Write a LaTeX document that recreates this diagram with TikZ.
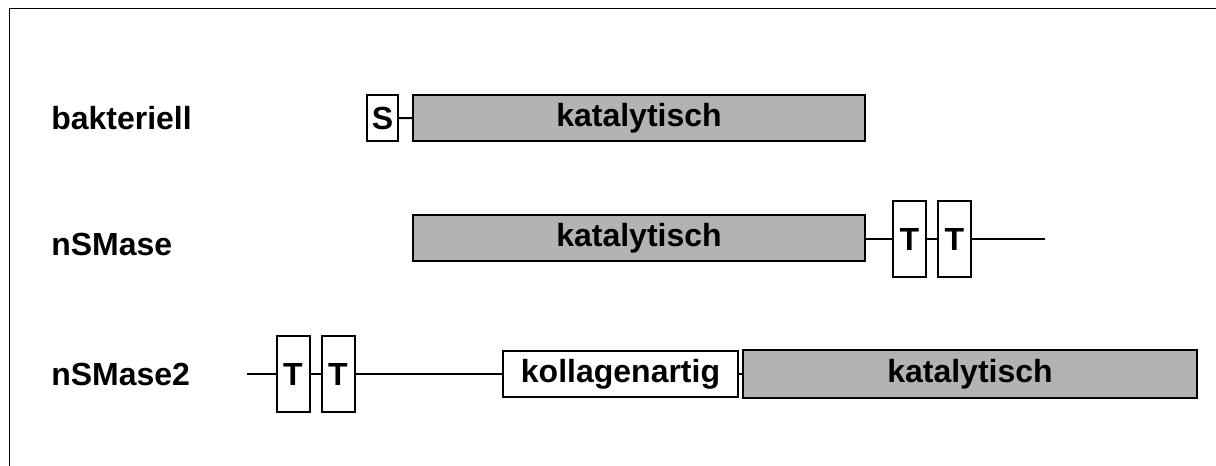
\documentclass[tikz,border=0pt]{standalone}
\usepackage{fontspec}
\setmainfont{Liberation Sans}
\usepackage{tikz}

\definecolor{katgray}{RGB}{179,179,179}

\begin{document}
\begin{tikzpicture}[x=0.75pt, y=-0.75pt,
  every node/.style={font=\fontsize{24}{27}\selectfont\bfseries},
  rowlabel/.style={anchor=west, inner sep=0pt},
  domainbox/.style={draw, line width=1.5pt, rectangle, inner sep=0pt},
  katbox/.style={domainbox, fill=katgray, minimum width=339pt, minimum height=34.5pt},
  tmbox/.style={domainbox, fill=white, minimum width=24.75pt, minimum height=57pt},
  link/.style={line width=1.5pt}]

\clip (0,0) rectangle (1216,466);
\draw[line width=1.2pt] (9.5,8.5) rectangle (1240,490);

%------------------ bakteriell ------------------%
\node[rowlabel] (lbak) at (51,118) {bakteriell};
\node[domainbox, fill=white, minimum width=23.25pt, minimum height=34.5pt] (S) at (382.5,118) {S};
\node[katbox] (kat1) at (639,118.5) {katalytisch};
\draw[link] (S) -- (kat1);

%------------------ nSMase ------------------%
\node[rowlabel] (lnsm) at (51,244) {nSMase};
\node[katbox] (kat2) at (639,238) {katalytisch};
\node[tmbox] (T1a) at (909.5,239) {T};
\node[tmbox] (T2a) at (954.5,239) {T};
\coordinate (enda) at (1045,239);
\draw[link] (kat2.east |- T1a) -- (T1a);
\draw[link] (T1a) -- (T2a);
\draw[link] (T2a) -- (enda);

%------------------ nSMase2 ------------------%
\node[rowlabel] (lnsm2) at (51,374) {nSMase2};
\coordinate (startb) at (247,374);
\node[tmbox] (T1b) at (293,374) {T};
\node[tmbox] (T2b) at (338,374) {T};
\node[domainbox, fill=white, minimum width=176.25pt, minimum height=34.5pt] (koll) at (620.5,374) {kollagenartig};
\node[katbox, minimum width=340.5pt, minimum height=36pt] (kat3) at (970,374) {katalytisch};
\draw[link] (startb) -- (T1b);
\draw[link] (T1b) -- (T2b);
\draw[link] (T2b) -- (koll);
\draw[link] (koll) -- (kat3);

\end{tikzpicture}
\end{document}
